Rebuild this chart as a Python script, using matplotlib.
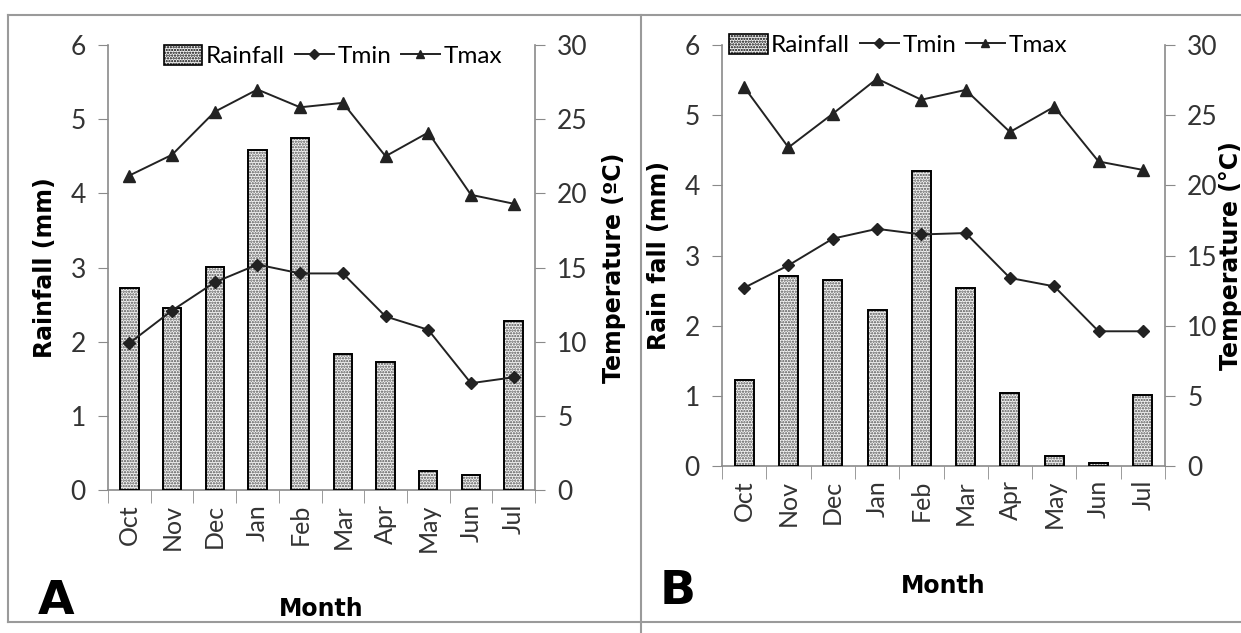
import matplotlib.pyplot as plt
import matplotlib.lines as mlines
import matplotlib.patches as mpatches
import numpy as np

months = ['Oct', 'Nov', 'Dec', 'Jan', 'Feb', 'Mar', 'Apr', 'May', 'Jun', 'Jul']

# Panel A
rain_a = [2.72, 2.45, 3.01, 4.59, 4.74, 1.83, 1.72, 0.25, 0.20, 2.28]
tmin_a = [9.9, 12.1, 14.0, 15.2, 14.6, 14.6, 11.7, 10.8, 7.2, 7.6]
tmax_a = [21.2, 22.6, 25.5, 27.0, 25.8, 26.1, 22.5, 24.1, 19.9, 19.3]

# Panel B
rain_b = [1.23, 2.71, 2.65, 2.22, 4.20, 2.53, 1.04, 0.14, 0.04, 1.01]
tmin_b = [12.7, 14.3, 16.2, 16.9, 16.5, 16.6, 13.4, 12.8, 9.6, 9.6]
tmax_b = [27.0, 22.7, 25.1, 27.6, 26.1, 26.8, 23.8, 25.6, 21.7, 21.1]

plt.rcParams['font.family'] = ['Lato', 'DejaVu Sans']
plt.rcParams['hatch.linewidth'] = 1.1

W, H = 1241, 633
fig = plt.figure(figsize=(W / 100, H / 100), dpi=100)

GREY = '#8a8a8a'
TXT = '#333333'


def px_axes(x0, y_top, x1, y_bot):
    return fig.add_axes([x0 / W, 1 - y_bot / H, (x1 - x0) / W, (y_bot - y_top) / H])


def draw_panel(ax, rain, tmin, tmax, ylab_left, ylab_right, leg_anchor, xlab_pad, rlab_pad):
    x = np.arange(len(months))
    ax.bar(x, rain, width=0.43, color='#f4f4f4', hatch='......', edgecolor='#505050', linewidth=0, zorder=2)
    ax.bar(x, rain, width=0.43, fill=False, edgecolor='black', linewidth=1.4, zorder=3)
    ax.set_xlim(-0.5, len(months) - 0.5)
    ax.set_ylim(0, 6)
    ax.set_yticks(range(0, 7))
    ax.set_xticks(x)
    ax.set_xticklabels(months, rotation=90, fontsize=18, color=TXT)
    ax.set_xticks(np.arange(-0.5, len(months)), minor=True)
    ax.tick_params(axis='x', which='major', length=0, pad=10)
    ax.tick_params(axis='x', which='minor', length=9, color=GREY, direction='out')
    ax.tick_params(axis='y', length=7, color=GREY, labelsize=19, labelcolor=TXT, pad=9)
    for s in ['top', 'right']:
        ax.spines[s].set_visible(False)
    for s in ['left', 'bottom']:
        ax.spines[s].set_color(GREY)
        ax.spines[s].set_linewidth(1.2)
    ax.set_xlabel('Month', fontsize=17, fontweight='bold', family='DejaVu Sans', labelpad=xlab_pad)
    ax.set_ylabel(ylab_left, fontsize=17, fontweight='bold', family='DejaVu Sans', labelpad=10)

    ax2 = ax.twinx()
    ax2.set_ylim(0, 30)
    ax2.set_yticks(range(0, 31, 5))
    ax2.tick_params(axis='y', length=7, color=GREY, labelsize=19, labelcolor=TXT, pad=9)
    for s in ['top', 'left', 'bottom']:
        ax2.spines[s].set_visible(False)
    ax2.spines['right'].set_color(GREY)
    ax2.spines['right'].set_linewidth(1.2)
    ax2.plot(x, tmin, color='#222222', linewidth=1.4, marker='D', markersize=6, zorder=4)
    ax2.plot(x, tmax, color='#222222', linewidth=1.4, marker='^', markersize=8, zorder=4)
    ax2.set_ylabel(ylab_right, fontsize=17, fontweight='bold', family='DejaVu Sans', labelpad=rlab_pad)

    h_rain = mpatches.Patch(facecolor='#f4f4f4', hatch='......', edgecolor='black', linewidth=1.2)
    h_min = mlines.Line2D([], [], color='#222222', linewidth=1.4, marker='D', markersize=5)
    h_max = mlines.Line2D([], [], color='#222222', linewidth=1.4, marker='^', markersize=6)
    ax2.legend([h_rain, h_min, h_max], ['Rainfall', 'Tmin', 'Tmax'], ncol=3, frameon=False,
               loc='center left', bbox_to_anchor=leg_anchor, fontsize=17.5,
               handlelength=1.6, handleheight=0.9, handletextpad=0.15, columnspacing=0.4,
               borderaxespad=0, borderpad=0)
    return ax2


ax_a = px_axes(108, 45, 535, 490)
draw_panel(ax_a, rain_a, tmin_a, tmax_a, 'Rainfall (mm)', 'Temperature (ºC)', (0.13, 0.975), 32, 10)
ax_b = px_axes(722, 45, 1165, 466)
draw_panel(ax_b, rain_b, tmin_b, tmax_b, 'Rain fall (mm)', 'Temperature (°C)', (0.015, 1.0), 33, 1)

# panel letters
fig.text(38 / W, 1 - 602 / H, 'A', fontsize=34, fontweight='bold', family='DejaVu Sans', ha='left', va='center')
fig.text(660 / W, 1 - 592 / H, 'B', fontsize=34, fontweight='bold', family='DejaVu Sans', ha='left', va='center')

# panel frame lines
def frame(xs, ys):
    fig.add_artist(mlines.Line2D([x / W for x in xs], [1 - y / H for y in ys], color='#9a9a9a', linewidth=1.5))

frame([8, 1241], [15, 15])
frame([8, 8], [15, 622])
frame([8, 1241], [622, 622])
frame([641, 641], [15, 633])

fig.savefig('out.png', dpi=100)
